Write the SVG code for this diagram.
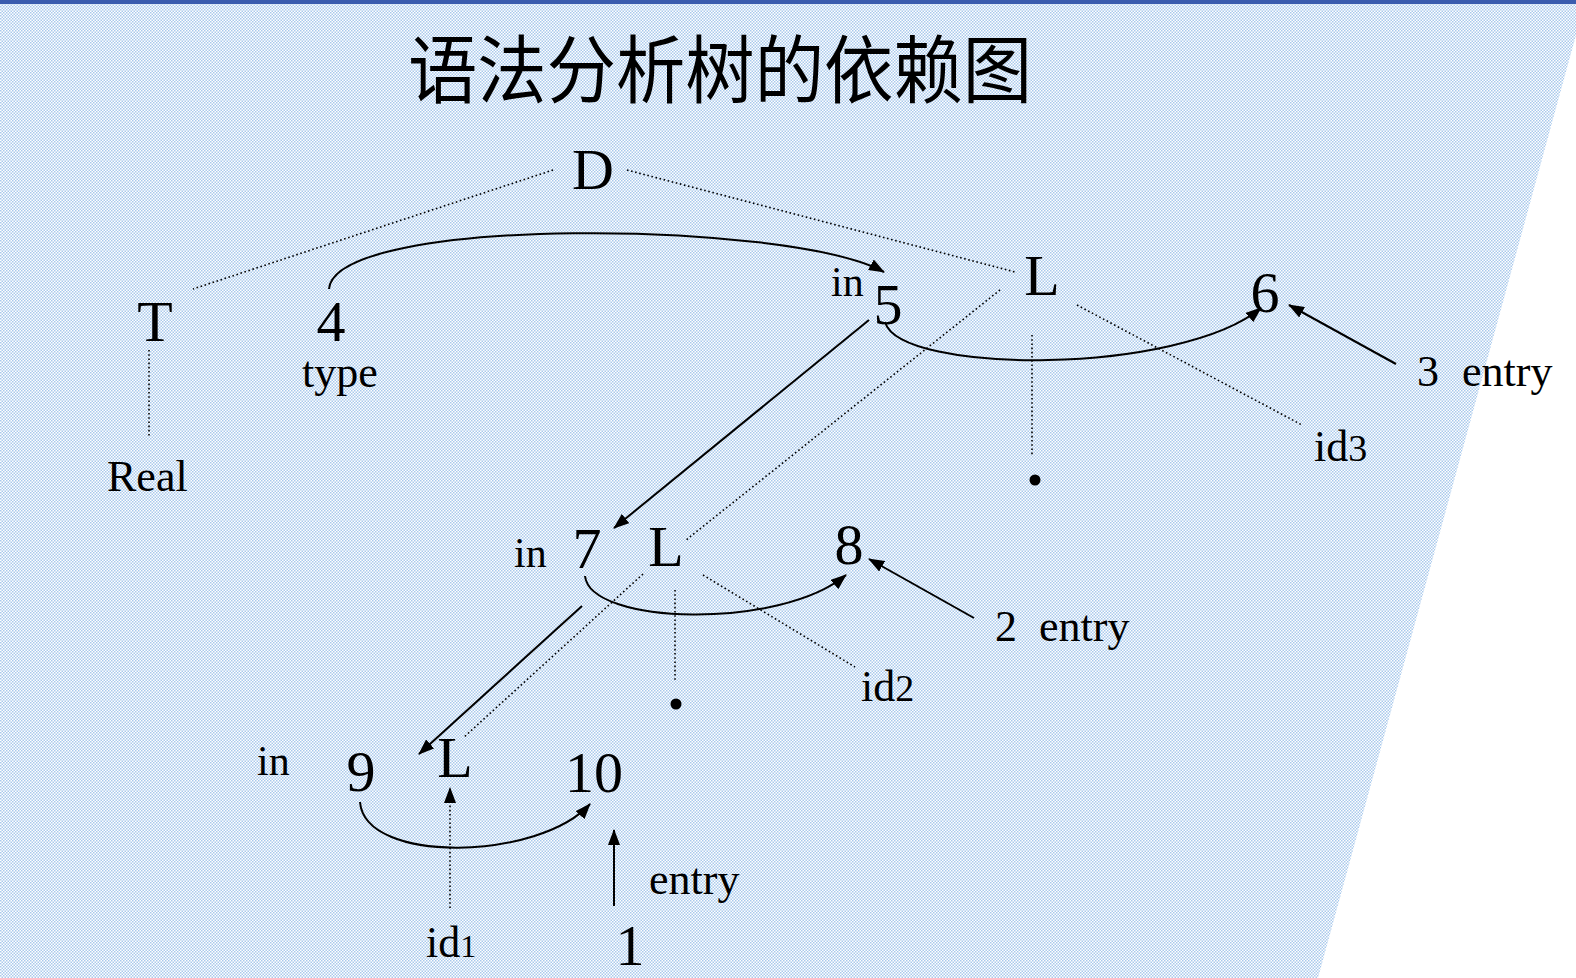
<svg xmlns="http://www.w3.org/2000/svg" width="1576" height="978" viewBox="0 0 1576 978">
<defs>
<pattern id="chk" width="3" height="3" patternUnits="userSpaceOnUse">
<rect width="3" height="3" fill="#ffffff"/>
<rect x="0" y="0" width="1.5" height="1.5" fill="#a9c9ec"/>
<rect x="1.5" y="1.5" width="1.5" height="1.5" fill="#a9c9ec"/>
</pattern>
<marker id="ah" viewBox="0 0 16 12" refX="15" refY="6" markerWidth="16" markerHeight="12" markerUnits="userSpaceOnUse" orient="auto">
<path d="M0,0 L16,6 L0,12 z" fill="#000"/>
</marker>
<style>
.t{font-family:"Liberation Serif","Times New Roman",serif;fill:#000}
.big{font-size:58px}
.sm{font-size:44px}
.in{font-size:42px}
.sub{font-size:38px}
.solid{stroke:#000;stroke-width:2;fill:none}
.dot{stroke:#000;stroke-width:1.6;stroke-dasharray:1.6 2.6;fill:none}
</style>
</defs>
<rect width="1576" height="978" fill="url(#chk)"/>
<polygon points="1576,35 1576,978 1318,978" fill="#ffffff"/>
<rect x="0" y="0" width="1576" height="4" fill="#3a5cae"/>
<text x="408" y="97" font-family="'Noto Sans CJK SC',sans-serif" font-size="74" textLength="624" lengthAdjust="spacingAndGlyphs" fill="#000">语法分析树的依赖图</text>
<g id="connectors">
<line class="dot" x1="553" y1="170" x2="193" y2="289"/>
<line class="dot" x1="627" y1="170" x2="1015" y2="272"/>
<line class="dot" x1="1000" y1="290" x2="686" y2="540"/>
<line class="dot" x1="1032" y1="335" x2="1032" y2="455"/>
<line class="dot" x1="1077" y1="305" x2="1302" y2="425"/>
<line class="dot" x1="149" y1="350" x2="149" y2="438"/>
<line class="dot" x1="643" y1="574" x2="463" y2="738"/>
<line class="dot" x1="675" y1="590" x2="675" y2="680"/>
<line class="dot" x1="703" y1="575" x2="855" y2="667"/>
<line class="dot" x1="450" y1="908" x2="450" y2="788" marker-end="url(#ah)"/>
<path class="solid" d="M329,289 C335,215 790,220 884,272" marker-end="url(#ah)"/>
<path class="solid" d="M885,322 C900,375 1180,375 1261,308" marker-end="url(#ah)"/>
<line class="solid" x1="1396" y1="364" x2="1289" y2="305" marker-end="url(#ah)"/>
<line class="solid" x1="869" y1="320" x2="614" y2="528" marker-end="url(#ah)"/>
<path class="solid" d="M585,576 C590,625 780,630 846,575" marker-end="url(#ah)"/>
<line class="solid" x1="974" y1="618" x2="869" y2="559" marker-end="url(#ah)"/>
<line class="solid" x1="582" y1="606" x2="419" y2="754" marker-end="url(#ah)"/>
<path class="solid" d="M360,802 C365,865 540,860 590,804" marker-end="url(#ah)"/>
<line class="solid" x1="614" y1="906" x2="614" y2="830" marker-end="url(#ah)"/>
</g>
<g id="node-D"><text class="t big" x="593" y="189" text-anchor="middle">D</text></g>
<g id="node-T"><text class="t big" x="155" y="341" text-anchor="middle">T</text></g>
<g id="node-Real"><text class="t sm" x="107" y="491">Real</text></g>
<g id="node-4"><text class="t big" x="331" y="341" text-anchor="middle">4</text><text class="t sm" x="302" y="387">type</text></g>
<g id="node-L1"><text class="t big" x="1042" y="295" text-anchor="middle">L</text></g>
<g id="node-5"><text class="t in" x="831" y="296">in</text><text class="t big" x="888" y="324" text-anchor="middle">5</text></g>
<g id="node-6"><text class="t big" x="1265" y="312" text-anchor="middle">6</text></g>
<g id="node-entry3"><text class="t sm" x="1417" y="386">3</text><text class="t sm" x="1462" y="386">entry</text></g>
<g id="node-id3"><text class="t sm" x="1314" y="461">id<tspan class="sub">3</tspan></text></g>
<g id="node-dot1"><circle cx="1035" cy="480" r="5.5" fill="#000"/></g>
<g id="node-7"><text class="t in" x="514" y="567">in</text><text class="t big" x="587" y="568" text-anchor="middle">7</text></g>
<g id="node-L2"><text class="t big" x="666" y="566" text-anchor="middle">L</text></g>
<g id="node-8"><text class="t big" x="849" y="564" text-anchor="middle">8</text></g>
<g id="node-entry2"><text class="t sm" x="995" y="641">2</text><text class="t sm" x="1039" y="641">entry</text></g>
<g id="node-id2"><text class="t sm" x="861" y="701">id<tspan class="sub">2</tspan></text></g>
<g id="node-dot2"><circle cx="676" cy="704" r="5.5" fill="#000"/></g>
<g id="node-9"><text class="t in" x="257" y="775">in</text><text class="t big" x="361" y="791" text-anchor="middle">9</text></g>
<g id="node-L3"><text class="t big" x="455" y="777" text-anchor="middle">L</text></g>
<g id="node-10"><text class="t big" x="594" y="792" text-anchor="middle">10</text></g>
<g id="node-id1"><text class="t sm" x="426" y="957">id<tspan font-size="32">1</tspan></text></g>
<g id="node-1"><text class="t big" x="630" y="965" text-anchor="middle">1</text><text class="t sm" x="649" y="894">entry</text></g>
</svg>
